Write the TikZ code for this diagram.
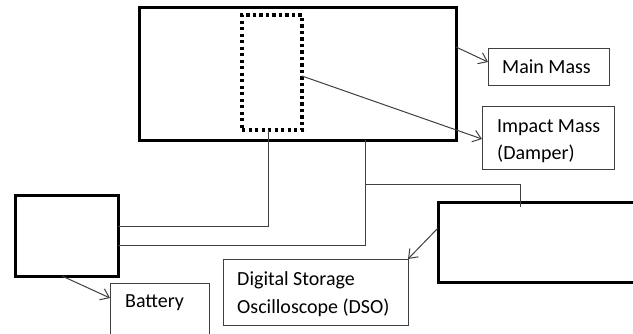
\documentclass[tikz,border=0pt]{standalone}
\usepackage{fontspec}
\setmainfont{Carlito}
\usetikzlibrary{arrows.meta}
\begin{document}
\begin{tikzpicture}[x=1pt,y=-1pt,
  heavy/.style={draw=black, line width=3pt, inner sep=0pt, outer sep=0pt, anchor=north west},
  dotbox/.style={draw=black, line width=3.3pt, dash pattern=on 3.3pt off 3.2pt, inner sep=0pt, outer sep=0pt, anchor=north west},
  labelbox/.style={draw=black!75, line width=1pt, inner sep=0pt, outer sep=0pt, anchor=north west},
  wire/.style={draw=black!75, line width=1pt},
  arr/.style={wire, -{Straight Barb[length=8pt,width=12pt,line width=1pt]}},
  txt/.style={anchor=base west, inner sep=0pt, font=\fontsize{20}{24}\selectfont, text=black}]
\useasboundingbox (0,0) rectangle (633,333);

% apparatus outline and the impact mass inside it
\node[heavy, minimum width=317pt, minimum height=133pt] (frame) at (139,7) {};
\node[dotbox, minimum width=60pt, minimum height=115pt] (mass) at (242,15) {};

% battery and oscilloscope
\node[heavy, minimum width=103pt, minimum height=81pt] (batt) at (15,195) {};
\node[heavy, minimum width=215pt, minimum height=80pt] (osc) at (438,202) {};

% label boxes
\node[labelbox, minimum width=121pt, minimum height=37pt] (mmlabel) at (488,48) {};
\node[labelbox, minimum width=132pt, minimum height=63pt] (imlabel) at (482,106) {};
\node[labelbox, minimum width=185pt, minimum height=66pt] (dsolabel) at (223,259) {};
\node[labelbox, minimum width=99pt, minimum height=70pt] (batlabel) at (110,283) {};

% label texts
\node[txt] (mmtext) at (502,73) {Main Mass};
\node[txt] (imtext1) at (497,132) {Impact Mass};
\node[txt] (imtext2) at (497,159) {(Damper)};
\node[txt] (battext) at (125,307) {Battery};
\node[txt] (dsotext1) at (237,285) {Digital Storage};
\node[txt] (dsotext2) at (237,313) {Oscilloscope (DSO)};

% pointers to the labels
\draw[arr] (frame.east |- 0,47) -- (mmlabel.west |- 0,62);
\draw[arr] (mass.east |- 0,76) -- (imlabel.west |- 0,139);
\draw[arr] (62,0 |- batt.south) -- (batlabel.west |- 0,298);
\draw[arr] (osc.west |- 0,228) -- (dsolabel.north east);

% wiring
\draw[wire] (268,0 |- mass.south) |- (batt.east |- 0,226);
\draw[wire] (365,0 |- frame.south) |- (batt.east |- 0,245);
\coordinate (tap) at (365,184);
\coordinate (oscin) at (520,207);
\draw[wire] (tap) -| (oscin);
\end{tikzpicture}
\end{document}
